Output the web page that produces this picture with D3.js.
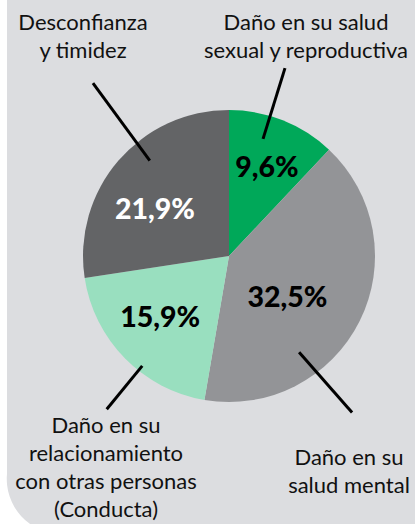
<!DOCTYPE html>
<html>
<head>
<meta charset="utf-8">
<script src="https://cdn.jsdelivr.net/npm/d3@7"></script>
<style>
  body { margin: 0; background: #fff; }
  svg { display: block; }
</style>
</head>
<body>
<div id="chart"></div>
<script>
// data (clockwise from 12 o'clock)
var categories = ["Daño en su salud sexual y reproductiva", "Daño en su salud mental",
  "Daño en su relacionamiento con otras personas (Conducta)", "Desconfianza y timidez"]
var values = [9.6, 32.5, 15.9, 21.9]
var valueLabels = ["9,6%", "32,5%", "15,9%", "21,9%"]
var labelLines = [
  ["Daño en su salud", "sexual y reproductiva"],
  ["Daño en su", "salud mental"],
  ["Daño en su", "relacionamiento", "con otras personas", "(Conducta)"],
  ["Desconfianza", "y timidez"]
]

var width = 415, height = 524
var cx = 229, cy = 256, radius = 146

var colors = ["#00a859", "#939497", "#99dfbf", "#636466"]
var valueColors = ["#000", "#000", "#000", "#fff"]

// where the percentages sit (angle in degrees, distance from centre)
var valuePos = [[23, 97], [124.7, 71], [228.5, 92], [302.7, 88]]
// leader lines: [angle in, radius in, angle out, radius out]
var leaders = [[16.2, 122, 16.6, 196], [143.9, 119, 141.8, 199],
  [218.3, 140, 218.6, 196], [320.3, 124, 321.8, 220]]
// category text anchor (centre x, first baseline)
var textPos = [[306, 30], [349, 465], [106, 433], [83, 30]]
var lineGap = 28

var svg = d3.select("#chart")
  .append("svg")
    .attr("width", width)
    .attr("height", height)

// grey panel with the rounded lower-left corner
svg.append("path")
  .attr("d", "M7,0 H" + width + " V" + (height + 10) + " H62 A55,55 0 0 1 7,474 Z")
  .attr("fill", "#dcdde0")

var g = svg.append("g")
  .attr("transform", "translate(" + cx + "," + cy + ")")

var pie = d3.pie().sort(null).value(function(d) { return d })
var arcs = pie(values)
var arcGen = d3.arc().innerRadius(0).outerRadius(radius)

g.selectAll("path.slice")
  .data(arcs)
  .enter()
  .append("path")
    .attr("class", "slice")
    .attr("d", arcGen)
    .attr("fill", function(d, i) { return colors[i] })

var rad = function(deg) { return deg * Math.PI / 180 }

g.selectAll("line.leader")
  .data(leaders)
  .enter()
  .append("line")
    .attr("class", "leader")
    .attr("x1", function(d) { return d3.pointRadial(rad(d[0]), d[1])[0] })
    .attr("y1", function(d) { return d3.pointRadial(rad(d[0]), d[1])[1] })
    .attr("x2", function(d) { return d3.pointRadial(rad(d[2]), d[3])[0] })
    .attr("y2", function(d) { return d3.pointRadial(rad(d[2]), d[3])[1] })
    .attr("stroke", "#000")
    .attr("stroke-width", 3)

g.selectAll("text.value")
  .data(valueLabels)
  .enter()
  .append("text")
    .attr("class", "value")
    .attr("x", function(d, i) { return d3.pointRadial(rad(valuePos[i][0]), valuePos[i][1])[0] })
    .attr("y", function(d, i) { return d3.pointRadial(rad(valuePos[i][0]), valuePos[i][1])[1] })
    .attr("dy", "0.36em")
    .attr("text-anchor", "middle")
    .attr("fill", function(d, i) { return valueColors[i] })
    .style("font-family", "Lato, 'Open Sans', sans-serif")
    .style("font-weight", 900)
    .style("font-size", "28.5px")
    .text(function(d) { return d })

var labels = svg.selectAll("text.cat")
  .data(labelLines)
  .enter()
  .append("text")
    .attr("class", "cat")
    .attr("text-anchor", "middle")
    .attr("fill", "#111")
    .style("font-family", "Lato, 'Open Sans', sans-serif")
    .style("font-size", "22px")

labels.selectAll("tspan")
  .data(function(d, i) { return d.map(function(t) { return {t: t, i: i} }) })
  .enter()
  .append("tspan")
    .attr("x", function(d) { return textPos[d.i][0] })
    .attr("y", function(d, j) { return textPos[d.i][1] + j * lineGap })
    .text(function(d) { return d.t })
</script>
</body>
</html>
